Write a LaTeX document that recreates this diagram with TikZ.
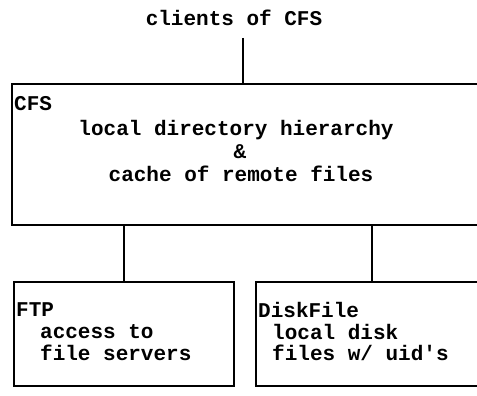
\documentclass[tikz,border=0pt]{standalone}
\usepackage{fontspec}
\setmonofont{Liberation Mono}

\newcommand*{\boxtop}{83}
\newcommand*{\lowtop}{281}

\begin{document}
\begin{tikzpicture}
[
	x=1pt, y=-1pt,
	every node/.style={font=\ttfamily\bfseries\fontsize{21}{22}\selectfont},
	unit/.style={draw,line width=1.7pt,inner sep=0pt,anchor=north west},
	lbl/.style={anchor=west,inner sep=0pt},
	line/.style={line width=1.7pt}
]
	\useasboundingbox (0,0) rectangle (477,396);

	% boxes
	\node[unit,minimum width=480pt,minimum height=141pt] (cfs) at (11,\boxtop) {};
	\node[unit,minimum width=220pt,minimum height=104pt] (ftp) at (13,\lowtop) {};
	\node[unit,minimum width=232pt,minimum height=104pt] (disk) at (255,\lowtop) {};

	% texts
	\node (clients) at (234,18) {clients of CFS};
	\node[lbl] (cfsname) at (14,104) {CFS};
	\node (hier) at (236,130) {local directory hierarchy};
	\node (amp) at (240,152) {\&};
	\node (cache) at (241,174) {cache of remote files};
	\node[lbl] (ftpname) at (16,310) {FTP};
	\node[lbl] (ftpa) at (40,332) {access to};
	\node[lbl] (ftpb) at (40,353) {file servers};
	\node[lbl] (diskname) at (258,310) {DiskFile};
	\node[lbl] (diska) at (272,332) {local disk};
	\node[lbl] (diskb) at (272,353) {files w/ uid's};

	% connectors
	\draw[line] (243,38) coordinate (top) -- (top |- cfs.north);
	\draw[line] (ftp.north) -- (ftp.north |- cfs.south);
	\draw[line] (disk.north) -- (disk.north |- cfs.south);

\end{tikzpicture}
\end{document}
